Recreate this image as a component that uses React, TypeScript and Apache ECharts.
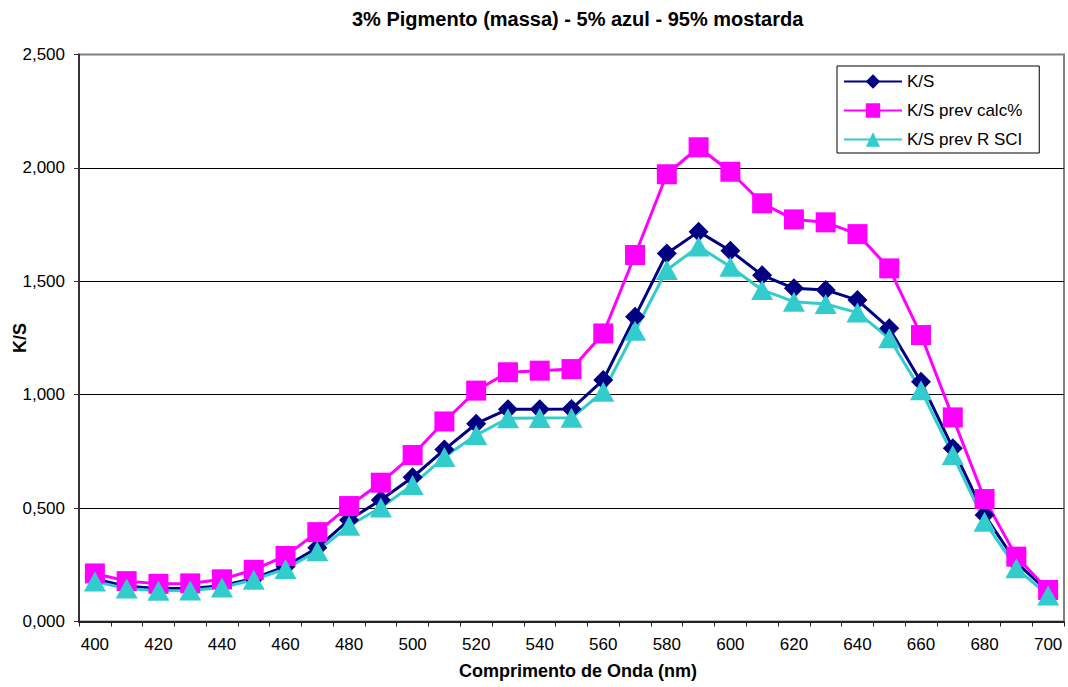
import React, { useEffect, useRef } from "react";
import * as echarts from "echarts";

const wavelengths = [
  "400", "410", "420", "430", "440", "450", "460", "470", "480", "490", "500",
  "510", "520", "530", "540", "550", "560", "570", "580", "590", "600",
  "610", "620", "630", "640", "650", "660", "670", "680", "690", "700",
];

const ksValues = [
  0.188, 0.155, 0.145, 0.145, 0.158, 0.19, 0.243, 0.325, 0.448, 0.536, 0.636,
  0.758, 0.872, 0.936, 0.936, 0.937, 1.065, 1.344, 1.623, 1.719, 1.635,
  1.527, 1.469, 1.462, 1.417, 1.293, 1.057, 0.764, 0.47, 0.26, 0.133,
];

const ksCalcValues = [
  0.212, 0.178, 0.166, 0.168, 0.186, 0.228, 0.289, 0.394, 0.509, 0.612, 0.734,
  0.882, 1.018, 1.099, 1.106, 1.113, 1.27, 1.616, 1.972, 2.091, 1.983,
  1.844, 1.773, 1.76, 1.708, 1.557, 1.263, 0.9, 0.54, 0.286, 0.139,
];

const ksRSciValues = [
  0.176, 0.145, 0.136, 0.137, 0.15, 0.184, 0.232, 0.31, 0.422, 0.503, 0.602,
  0.725, 0.822, 0.896, 0.897, 0.898, 1.013, 1.282, 1.55, 1.653, 1.564,
  1.462, 1.41, 1.4, 1.362, 1.249, 1.02, 0.734, 0.44, 0.235, 0.115,
];

const seriesNames = ["K/S", "K/S prev calc%", "K/S prev R SCI"];
const titleText = "3% Pigmento (massa) - 5% azul - 95% mostarda";
const xAxisTitle = "Comprimento de Onda (nm)";
const yAxisTitle = "K/S";

const FONT = "'Liberation Sans', Arial, sans-serif";

export default function App() {
  const ref = useRef<HTMLDivElement>(null);

  useEffect(() => {
    if (!ref.current) return;
    const chart = echarts.init(ref.current, null, { renderer: "svg" });
    chart.setOption({
      animation: false,
      backgroundColor: "#ffffff",
      textStyle: { fontFamily: FONT, color: "#000" },
      title: {
        text: titleText,
        left: 352,
        top: 9,
        padding: 0,
        textStyle: { fontFamily: FONT, fontSize: 20, fontWeight: "bold", color: "#000" },
      },
      legend: {
        orient: "vertical",
        left: 837,
        top: 66,
        padding: [7, 17, 5, 6],
        itemWidth: 58,
        itemHeight: 18,
        itemGap: 12,
        backgroundColor: "#fff",
        borderColor: "#000",
        borderWidth: 1,
        borderRadius: 0,
        textStyle: { fontFamily: FONT, fontSize: 17, color: "#000" },
        data: seriesNames,
      },
      grid: {
        left: 79,
        right: 4,
        top: 54.5,
        bottom: 65.5,
        containLabel: false,
        outerBoundsMode: "none",
        show: true,
        borderColor: "#808080",
        borderWidth: 2,
        backgroundColor: "#fff",
      },
      xAxis: {
        type: "category",
        data: wavelengths,
        boundaryGap: true,
        name: xAxisTitle,
        nameLocation: "middle",
        nameGap: 40,
        nameMoveOverlap: false,
        nameTextStyle: {
          fontFamily: FONT,
          fontSize: 18,
          fontWeight: "bold",
          color: "#000",
          padding: [0, 0, 0, 13],
        },
        axisLine: { lineStyle: { color: "#222", width: 2 } },
        axisTick: { show: true, interval: 0, alignWithLabel: false, length: 5, lineStyle: { color: "#222" } },
        axisLabel: { interval: 1, fontSize: 17, color: "#000", margin: 14, fontFamily: FONT },
        splitLine: { show: false },
      },
      yAxis: {
        type: "value",
        min: 0,
        max: 2.5,
        interval: 0.5,
        name: yAxisTitle,
        nameLocation: "middle",
        nameGap: 50,
        nameRotate: 90,
        nameMoveOverlap: false,
        nameTextStyle: { fontFamily: FONT, fontSize: 18, fontWeight: "bold", color: "#000" },
        axisLine: { show: true, lineStyle: { color: "#333", width: 2 } },
        axisTick: { show: true, length: 5, lineStyle: { color: "#333" } },
        axisLabel: {
          fontSize: 17,
          color: "#000",
          margin: 14,
          fontFamily: FONT,
          formatter: (v: number) => v.toFixed(3).replace(".", ","),
        },
        splitLine: {
          show: true,
          lineStyle: { color: ["#000", "#000", "#000", "#000", "#000", "#808080"], width: 1 },
        },
      },
      series: [
        {
          name: seriesNames[0],
          type: "line",
          data: ksValues,
          symbol: "diamond",
          symbolSize: 20,
          lineStyle: { color: "#000080", width: 3 },
          itemStyle: { color: "#000080" },
        },
        {
          name: seriesNames[1],
          type: "line",
          data: ksCalcValues,
          symbol: "rect",
          symbolSize: 20,
          lineStyle: { color: "#FF00FF", width: 3 },
          itemStyle: { color: "#FF00FF" },
        },
        {
          name: seriesNames[2],
          type: "line",
          data: ksRSciValues,
          symbol: "triangle",
          symbolSize: [22, 20],
          lineStyle: { color: "#33CCCC", width: 3 },
          itemStyle: { color: "#33CCCC" },
        },
      ],
    });
    return () => chart.dispose();
  }, []);

  return (
    <div
      ref={ref}
      style={{ position: "absolute", left: 0, top: 0, width: 1068, height: 687 }}
    />
  );
}
